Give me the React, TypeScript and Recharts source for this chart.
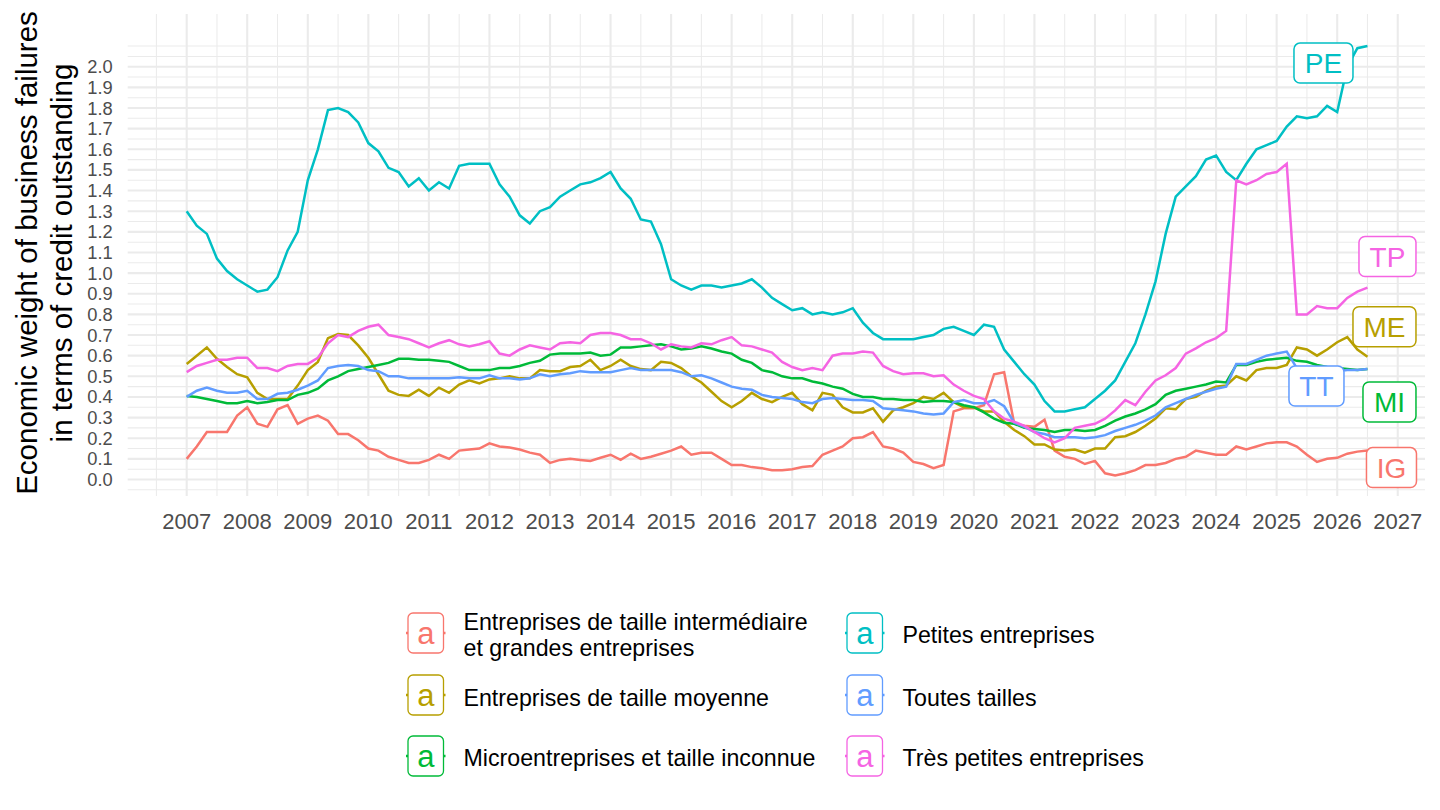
import React from 'react'
import { LineChart, Line, XAxis, YAxis, CartesianGrid, LabelList } from 'recharts'

// bi-monthly observations, Jan 2007 -> Jul 2026
const START_YEAR = 2007
const STEP_MONTHS = 2

const IG = [
  0.10, 0.16, 0.23, 0.23, 0.23, 0.31, 0.35, 0.27, 0.255, 0.34, 0.36, 0.27, 0.295, 0.31, 0.285, 0.22, 0.22, 0.19, 0.15, 0.14, 0.11,
  0.095, 0.08, 0.08, 0.095, 0.12, 0.10, 0.14, 0.145, 0.15, 0.175, 0.16, 0.155, 0.145, 0.13, 0.12, 0.08, 0.095, 0.10, 0.095, 0.09, 0.105,
  0.12, 0.095, 0.125, 0.10, 0.11, 0.125, 0.14, 0.16, 0.12, 0.13, 0.13, 0.10, 0.07, 0.07, 0.06, 0.055, 0.045, 0.045, 0.05, 0.06, 0.065,
  0.12, 0.14, 0.16, 0.20, 0.205, 0.23, 0.16, 0.15, 0.13, 0.085, 0.075, 0.055, 0.07, 0.33, 0.345, 0.345, 0.36, 0.51, 0.52, 0.27, 0.26,
  0.255, 0.29, 0.14, 0.11, 0.10, 0.075, 0.09, 0.03, 0.02, 0.03, 0.045, 0.07, 0.07, 0.08, 0.10, 0.11, 0.14, 0.13, 0.12, 0.12, 0.16,
  0.145, 0.16, 0.175, 0.18, 0.18, 0.16, 0.12, 0.085, 0.10, 0.105, 0.125, 0.135, 0.14,
]

const ME = [
  0.56, 0.60, 0.64, 0.585, 0.545, 0.51, 0.495, 0.42, 0.39, 0.39, 0.39, 0.455, 0.53, 0.57, 0.685, 0.705, 0.70, 0.65, 0.59, 0.51, 0.43,
  0.41, 0.405, 0.435, 0.405, 0.445, 0.42, 0.46, 0.48, 0.465, 0.485, 0.49, 0.50, 0.49, 0.49, 0.53, 0.525, 0.525, 0.545, 0.55, 0.58, 0.53,
  0.55, 0.58, 0.55, 0.535, 0.53, 0.57, 0.565, 0.54, 0.50, 0.47, 0.425, 0.38, 0.35, 0.38, 0.42, 0.39, 0.375, 0.40, 0.42, 0.365, 0.335,
  0.42, 0.41, 0.35, 0.325, 0.325, 0.345, 0.28, 0.335, 0.35, 0.37, 0.40, 0.39, 0.42, 0.375, 0.35, 0.35, 0.33, 0.33, 0.28, 0.24, 0.21,
  0.17, 0.17, 0.145, 0.14, 0.145, 0.13, 0.15, 0.15, 0.205, 0.21, 0.23, 0.26, 0.295, 0.345, 0.34, 0.39, 0.40, 0.43, 0.45, 0.455, 0.50,
  0.48, 0.53, 0.54, 0.54, 0.555, 0.64, 0.63, 0.60, 0.63, 0.665, 0.69, 0.63, 0.595,
]

const MI = [
  0.405, 0.40, 0.39, 0.38, 0.37, 0.37, 0.38, 0.37, 0.375, 0.385, 0.385, 0.41, 0.42, 0.44, 0.48, 0.50, 0.525, 0.535, 0.545, 0.555, 0.565,
  0.585, 0.585, 0.58, 0.58, 0.575, 0.57, 0.55, 0.53, 0.53, 0.53, 0.54, 0.54, 0.55, 0.565, 0.575, 0.605, 0.61, 0.61, 0.61, 0.615, 0.60,
  0.605, 0.64, 0.64, 0.645, 0.65, 0.655, 0.645, 0.63, 0.635, 0.645, 0.635, 0.62, 0.61, 0.58, 0.565, 0.53, 0.52, 0.50, 0.49, 0.49, 0.475,
  0.465, 0.45, 0.44, 0.415, 0.40, 0.40, 0.39, 0.39, 0.385, 0.385, 0.375, 0.38, 0.38, 0.375, 0.36, 0.35, 0.325, 0.295, 0.275, 0.27, 0.25,
  0.245, 0.24, 0.23, 0.24, 0.24, 0.235, 0.24, 0.26, 0.285, 0.305, 0.32, 0.34, 0.365, 0.41, 0.43, 0.44, 0.45, 0.46, 0.475, 0.47, 0.555,
  0.555, 0.57, 0.58, 0.585, 0.59, 0.575, 0.57, 0.555, 0.545, 0.54, 0.535, 0.53, 0.535,
]

const PE = [
  1.30, 1.23, 1.19, 1.07, 1.01, 0.97, 0.94, 0.91, 0.92, 0.98, 1.11, 1.20, 1.45, 1.60, 1.79, 1.80, 1.78, 1.73, 1.63, 1.59, 1.51,
  1.49, 1.42, 1.46, 1.40, 1.44, 1.41, 1.52, 1.53, 1.53, 1.53, 1.43, 1.37, 1.28, 1.24, 1.30, 1.32, 1.37, 1.40, 1.43, 1.44, 1.46,
  1.49, 1.41, 1.36, 1.26, 1.25, 1.14, 0.97, 0.94, 0.92, 0.94, 0.94, 0.93, 0.94, 0.95, 0.97, 0.93, 0.88, 0.85, 0.82, 0.83, 0.80,
  0.81, 0.80, 0.81, 0.83, 0.76, 0.71, 0.68, 0.68, 0.68, 0.68, 0.69, 0.70, 0.73, 0.74, 0.72, 0.70, 0.75, 0.74, 0.63, 0.57, 0.51,
  0.46, 0.38, 0.33, 0.33, 0.34, 0.35, 0.39, 0.43, 0.48, 0.57, 0.66, 0.80, 0.96, 1.19, 1.37, 1.42, 1.47, 1.55, 1.57, 1.49, 1.45,
  1.53, 1.60, 1.62, 1.64, 1.71, 1.76, 1.75, 1.76, 1.81, 1.78, 2.00, 2.09, 2.10,
]

const TT = [
  0.40, 0.43, 0.445, 0.43, 0.42, 0.42, 0.43, 0.39, 0.39, 0.415, 0.42, 0.435, 0.455, 0.48, 0.54, 0.55, 0.555, 0.55, 0.53, 0.525, 0.50,
  0.50, 0.49, 0.49, 0.49, 0.49, 0.49, 0.495, 0.49, 0.49, 0.505, 0.49, 0.49, 0.485, 0.49, 0.51, 0.50, 0.51, 0.515, 0.525, 0.52, 0.52,
  0.52, 0.53, 0.54, 0.53, 0.53, 0.53, 0.53, 0.52, 0.50, 0.505, 0.49, 0.47, 0.45, 0.44, 0.435, 0.41, 0.40, 0.395, 0.39, 0.375, 0.37,
  0.39, 0.395, 0.39, 0.385, 0.385, 0.38, 0.345, 0.34, 0.335, 0.33, 0.32, 0.315, 0.32, 0.375, 0.385, 0.37, 0.37, 0.385, 0.355, 0.275, 0.255,
  0.23, 0.22, 0.205, 0.205, 0.205, 0.20, 0.205, 0.215, 0.235, 0.25, 0.265, 0.285, 0.31, 0.35, 0.37, 0.39, 0.41, 0.425, 0.44, 0.45, 0.56,
  0.56, 0.58, 0.60, 0.61, 0.62, 0.54, 0.535, 0.53, 0.53, 0.525, 0.53, 0.53, 0.535,
]

const TP = [
  0.52, 0.55, 0.565, 0.58, 0.58, 0.59, 0.59, 0.54, 0.54, 0.525, 0.55, 0.56, 0.56, 0.59, 0.66, 0.70, 0.69, 0.72, 0.74, 0.75, 0.70,
  0.69, 0.68, 0.66, 0.64, 0.66, 0.675, 0.655, 0.645, 0.655, 0.67, 0.61, 0.60, 0.63, 0.65, 0.64, 0.63, 0.66, 0.665, 0.66, 0.70, 0.71,
  0.71, 0.70, 0.68, 0.68, 0.66, 0.63, 0.655, 0.645, 0.64, 0.66, 0.655, 0.675, 0.69, 0.65, 0.645, 0.63, 0.615, 0.57, 0.545, 0.53, 0.54,
  0.53, 0.60, 0.61, 0.61, 0.62, 0.615, 0.55, 0.525, 0.51, 0.515, 0.515, 0.50, 0.505, 0.46, 0.43, 0.405, 0.39, 0.33, 0.295, 0.28, 0.26,
  0.23, 0.20, 0.18, 0.20, 0.25, 0.26, 0.27, 0.295, 0.335, 0.385, 0.36, 0.425, 0.48, 0.505, 0.54, 0.61, 0.635, 0.665, 0.685, 0.72, 1.45,
  1.43, 1.45, 1.48, 1.49, 1.53, 0.80, 0.80, 0.84, 0.83, 0.83, 0.88, 0.91, 0.93,
]

const X_TICKS = [2007, 2008, 2009, 2010, 2011, 2012, 2013, 2014, 2015, 2016, 2017, 2018, 2019, 2020, 2021, 2022, 2023, 2024, 2025, 2026, 2027]
const X_MINOR = [2006.5, 2007.5, 2008.5, 2009.5, 2010.5, 2011.5, 2012.5, 2013.5, 2014.5, 2015.5, 2016.5, 2017.5, 2018.5, 2019.5, 2020.5, 2021.5, 2022.5, 2023.5, 2024.5, 2025.5, 2026.5]
const Y_TICKS = [0, 0.1, 0.2, 0.3, 0.4, 0.5, 0.6, 0.7, 0.8, 0.9, 1.0, 1.1, 1.2, 1.3, 1.4, 1.5, 1.6, 1.7, 1.8, 1.9, 2.0]
const Y_MINOR = [-0.05, 0.05, 0.15, 0.25, 0.35, 0.45, 0.55, 0.65, 0.75, 0.85, 0.95, 1.05, 1.15, 1.25, 1.35, 1.45, 1.55, 1.65, 1.75, 1.85, 1.95, 2.05, 2.1]

const SERIES = [
  { key: 'IG', name: ['Entreprises de taille intermédiaire', 'et grandes entreprises'], color: '#F8766D', values: IG },
  { key: 'ME', name: ['Entreprises de taille moyenne'], color: '#B79F00', values: ME },
  { key: 'MI', name: ['Microentreprises et taille inconnue'], color: '#00BA38', values: MI },
  { key: 'PE', name: ['Petites entreprises'], color: '#00BFC4', values: PE },
  { key: 'TT', name: ['Toutes tailles'], color: '#619CFF', values: TT },
  { key: 'TP', name: ['Très petites entreprises'], color: '#F564E3', values: TP },
]

const FONT = '"Liberation Sans", Arial, Helvetica, sans-serif'

// where the repel-style tags sit relative to each series' last point
const TAG_STYLE: Record<string, { dx: number; dy: number; w: number }> = {
  IG: { dx: 24, dy: 17, w: 50 },
  ME: { dx: 17, dy: -30, w: 63 },
  MI: { dx: 22, dy: 33, w: 53 },
  PE: { dx: -44, dy: 17, w: 59 },
  TT: { dx: -51, dy: 17, w: 55 },
  TP: { dx: 20, dy: -31, w: 57 },
}

const dateOf = (i: number) => START_YEAR + (i * STEP_MONTHS) / 12

const rows = IG.map((_, i) => {
  const row: Record<string, number> = { t: dateOf(i) }
  SERIES.forEach((s) => { row[s.key] = s.values[i] })
  return row
})

const last = IG.length - 1
const ends = SERIES.map((s) => ({ t: dateOf(last), v: s.values[last], key: s.key }))

function EndTag(props: any) {
  const px = props.x ?? props.viewBox?.x
  const py = props.y ?? props.viewBox?.y
  const s = SERIES[props.index] ?? SERIES.find((d) => d.key === props.payload?.key)
  if (!s || px == null || py == null) return null
  const st = TAG_STYLE[s.key]
  const cx = px + st.dx
  const cy = py + st.dy
  return (
    <g>
      <rect x={cx - st.w / 2} y={cy - 20} width={st.w} height={40} rx={6} fill="#fff" stroke={s.color} strokeWidth={1.5} />
      <text x={cx} y={cy + 10} textAnchor="middle" fontSize={28} fill={s.color} fontFamily={FONT}>{s.key}</text>
    </g>
  )
}

const LEGEND_COLS = [408, 847]
const LEGEND_ROWS = [613, 675, 736]
const LEGEND_BASE = [[630, 656], [705.5], [766]]

function Legend() {
  return (
    <g fontFamily={FONT}>
      {SERIES.map((s, i) => {
        const col = i < 3 ? 0 : 1
        const row = i % 3
        const kx = LEGEND_COLS[col]
        const ky = LEGEND_ROWS[row]
        const lines = s.name
        const base = lines.length > 1 ? LEGEND_BASE[0] : [row === 0 ? 643 : LEGEND_BASE[row][0]]
        return (
          <g key={s.key}>
            <line x1={kx - 2} x2={kx + 37.5} y1={ky + 20} y2={ky + 20} stroke={s.color} strokeWidth={2.4} />
            <rect x={kx} y={ky} width={35.5} height={40} rx={5} fill="#fff" stroke={s.color} strokeWidth={1.3} />
            <text x={kx + 17.75} y={ky + 30.5} textAnchor="middle" fontSize={31} fill={s.color}>a</text>
            {lines.map((ln, j) => (
              <text key={j} x={kx + 55.5} y={base[j]} fontSize={23.2} fill="#000">{ln}</text>
            ))}
          </g>
        )
      })}
    </g>
  )
}

export default function App() {
  const xTick = { fontSize: 22, fill: '#4D4D4D', fontFamily: FONT }
  const yTick = { fontSize: 18.3, fill: '#4D4D4D', fontFamily: FONT }
  return (
    <div style={{ position: 'absolute', left: 0, top: 0, width: 1440, height: 810, background: '#fff', overflow: 'hidden' }}>
      <LineChart width={1440} height={810} data={rows} margin={{ top: 14, right: 15, bottom: 284, left: 0 }}>
        <CartesianGrid stroke="#EBEBEB" strokeWidth={1.05} horizontalValues={Y_MINOR} verticalValues={X_MINOR} syncWithTicks />
        <CartesianGrid stroke="#EBEBEB" strokeWidth={2.1} syncWithTicks />
        <XAxis
          dataKey="t"
          type="number"
          domain={[2006.026, 2027.45]}
          ticks={X_TICKS}
          interval={0}
          allowDataOverflow
          axisLine={false}
          tickLine={false}
          tickSize={0}
          tickMargin={17}
          height={30}
          tick={xTick}
        />
        <YAxis
          type="number"
          domain={[-0.08, 2.2555]}
          ticks={Y_TICKS}
          interval={0}
          allowDataOverflow
          width={127.7}
          axisLine={false}
          tickLine={false}
          tickSize={0}
          tickMargin={15}
          tickFormatter={(v: number) => v.toFixed(1)}
          tick={yTick}
        />
        {SERIES.map((s) => (
          <Line
            key={s.key}
            type="linear"
            dataKey={s.key}
            stroke={s.color}
            strokeWidth={2.5}
            dot={false}
            activeDot={false}
            isAnimationActive={false}
          />
        ))}
        <Line data={ends} dataKey="v" stroke="none" dot={false} activeDot={false} isAnimationActive={false} legendType="none">
          <LabelList dataKey="v" content={EndTag} />
        </Line>
      </LineChart>
      <svg width={1440} height={810} style={{ position: 'absolute', left: 0, top: 0, pointerEvents: 'none' }}>
        <g fontFamily={FONT} fontSize={29.5} fill="#000" textAnchor="middle">
          <text transform="translate(36.7,253) rotate(-90)">Economic weight of business failures</text>
          <text transform="translate(71.7,253) rotate(-90)">in terms of credit outstanding</text>
        </g>
        <Legend />
      </svg>
    </div>
  )
}
